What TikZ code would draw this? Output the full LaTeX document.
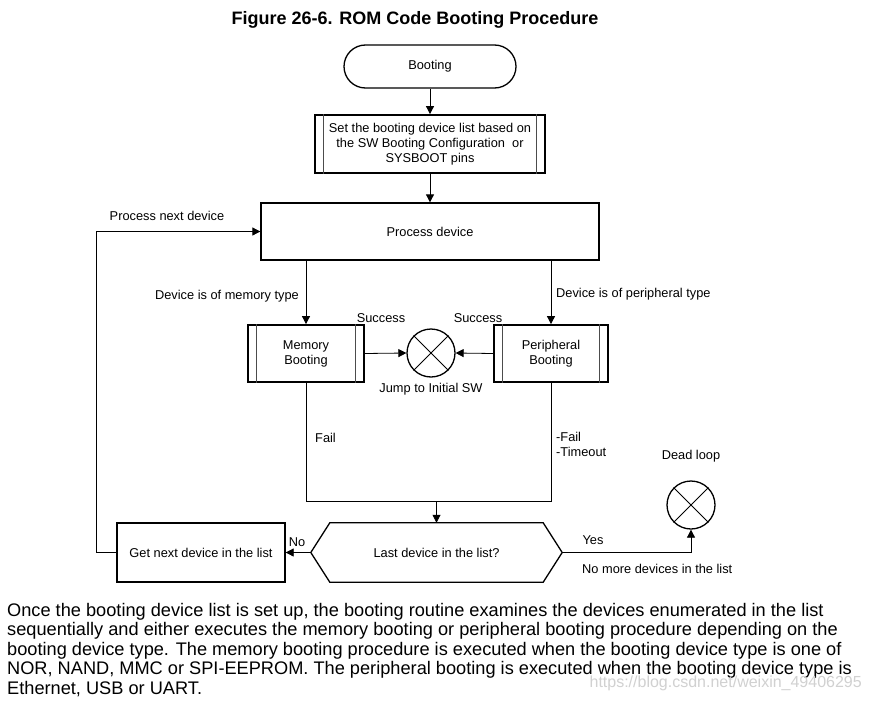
\documentclass[tikz,border=0pt]{standalone}
\usepackage{fontspec}
\setmainfont{Liberation Sans}
\usetikzlibrary{arrows.meta,shapes.misc}
\begin{document}
\begin{tikzpicture}[x=1pt,y=-1pt,
  lbl/.style={font=\fontsize{12.8}{15}\selectfont, inner sep=0pt},
  boxx/.style={draw, line width=1.3pt, font=\fontsize{12.8}{15}\selectfont, align=center, inner sep=0pt},
  predef/.style={draw, line width=1.8pt, font=\fontsize{12.8}{15}\selectfont, align=center, inner sep=0pt},
  inner/.style={draw=black!70, line width=0.9pt},
  xcirc/.style={draw, circle, line width=1.3pt, minimum size=48pt, inner sep=0pt},
  conn/.style={line width=0.8pt},
  arr/.style={conn, -{Triangle[length=8pt,width=8pt]}}
]
\path[use as bounding box, fill=white] (0,0) rectangle (870,701);

\node[font=\bfseries\fontsize{18}{20}\selectfont, inner sep=0pt] (title) at (415,20) {Figure 26-6. ROM Code Booting Procedure};

\node[boxx, rounded rectangle, minimum width=172pt, minimum height=43pt] (boot) at (430,66.5) {Booting};

\node[predef, minimum width=230pt, minimum height=58pt] (setlist) at (430,144) {Set the booting device list based on\\the SW Booting Configuration~~or\\SYSBOOT pins};
\draw[inner] ([xshift=9pt]setlist.north west) -- ([xshift=9pt]setlist.south west);
\draw[inner] ([xshift=-9pt]setlist.north east) -- ([xshift=-9pt]setlist.south east);

\node[boxx, minimum width=338pt, minimum height=57pt] (proc) at (430,231.5) {Process device};

\node[predef, minimum width=116pt, minimum height=57pt] (mem) at (306,353.5) {Memory\\Booting};
\draw[inner] ([xshift=9pt]mem.north west) -- ([xshift=9pt]mem.south west);
\draw[inner] ([xshift=-9pt]mem.north east) -- ([xshift=-9pt]mem.south east);

\node[predef, minimum width=114pt, minimum height=57pt] (peri) at (551,353.5) {Peripheral\\Booting};
\draw[inner] ([xshift=9pt]peri.north west) -- ([xshift=9pt]peri.south west);
\draw[inner] ([xshift=-9pt]peri.north east) -- ([xshift=-9pt]peri.south east);

\node[xcirc] (jump) at (431,353) {};
\draw[conn] (jump.north west) -- (jump.south east);
\draw[conn] (jump.north east) -- (jump.south west);

\node[boxx, minimum width=168pt, minimum height=59pt] (getnext) at (201,552.5) {Get next device in the list};

\node[lbl, minimum width=251pt, minimum height=59pt] (hex) at (436.5,552.5) {Last device in the list?};
\draw[line width=1.3pt, line join=miter] (hex.west) -- ([xshift=19pt]hex.north west) -- ([xshift=-19pt]hex.north east) -- (hex.east) -- ([xshift=-19pt]hex.south east) -- ([xshift=19pt]hex.south west) -- cycle;

\node[xcirc] (dead) at (691,505) {};
\draw[conn] (dead.north west) -- (dead.south east);
\draw[conn] (dead.north east) -- (dead.south west);

% connectors
\draw[arr] (boot.south) -- (setlist.north);
\draw[arr] (setlist.south) -- (proc.north);
\draw[arr] (mem.north |- proc.south) -- (mem.north);
\draw[arr] (peri.north |- proc.south) -- (peri.north);
\draw[arr] (mem.east) -- (jump.west);
\draw[arr] (peri.west) -- (jump.east);
\coordinate (merge) at (436.5,501);
\draw[conn] (mem.south) -- (mem.south |- merge) -- (peri.south |- merge) -- (peri.south);
\draw[arr] (merge) -- (hex.north);
\draw[arr] (hex.west) -- (getnext.east);
\draw[arr] (hex.east) -| (dead.south);
\coordinate (loop) at (96,231.5);
\draw[arr] (getnext.west) -| (loop) -- (proc.west);

% labels
\node[lbl] (lnext) at (167,216) {Process next device};
\node[lbl, anchor=east] (lmemt) at (299,296) {Device is of memory type};
\node[lbl, anchor=west] (lperit) at (556,294) {Device is of peripheral type};
\node[lbl] (ls1) at (381,318) {Success};
\node[lbl] (ls2) at (478,318) {Success};
\node[lbl] (ljump) at (431,389) {Jump to Initial SW};
\node[lbl, anchor=west] (lfail) at (315,438) {Fail};
\node[lbl, anchor=west, align=left] (lfail2) at (556,444.5) {-Fail\\-Timeout};
\node[lbl] (ldead) at (691,456) {Dead loop};
\node[lbl] (lno) at (297,542) {No};
\node[lbl] (lyes) at (593,540) {Yes};
\node[lbl, anchor=west] (lnomore) at (582,569) {No more devices in the list};

\node[anchor=north west, inner sep=0pt, align=left, font=\fontsize{18.2}{19.5}\selectfont] (para) at (7,603)
{Once the booting device list is set up, the booting routine examines the devices enumerated in the list\\
sequentially and either executes the memory booting or peripheral booting procedure depending on the\\
booting device type. The memory booting procedure is executed when the booting device type is one of\\
NOR, NAND, MMC or SPI-EEPROM. The peripheral booting is executed when the booting device type is\\
Ethernet, USB or UART.};

\node[anchor=east, inner sep=0pt, text=black!18, font=\fontsize{16}{18}\selectfont] (wm) at (862,683) {https://blog.csdn.net/weixin\_49406295};
\end{tikzpicture}
\end{document}
